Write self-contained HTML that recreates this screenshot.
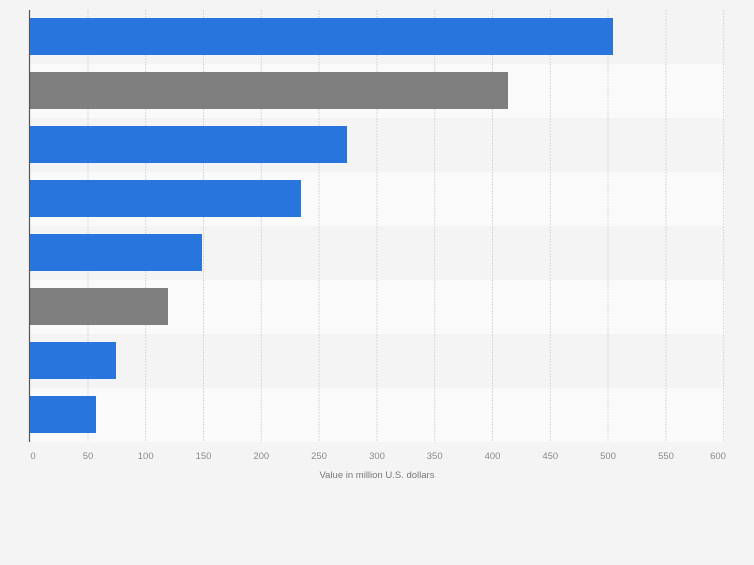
<!DOCTYPE html><html><head><style>body{margin:0;background:#f4f4f4;}</style></head><body>
<svg width="754" height="560" xmlns="http://www.w3.org/2000/svg" font-family="Liberation Sans, sans-serif">
<rect width="754" height="560" fill="#f4f4f4"/>
<g>
<rect x="30" y="10" width="695" height="54" fill="#f4f4f4"/>
<rect x="30" y="64" width="695" height="54" fill="#fafafa"/>
<rect x="30" y="118" width="695" height="54" fill="#f4f4f4"/>
<rect x="30" y="172" width="695" height="54" fill="#fafafa"/>
<rect x="30" y="226" width="695" height="54" fill="#f4f4f4"/>
<rect x="30" y="280" width="695" height="54" fill="#fafafa"/>
<rect x="30" y="334" width="695" height="54" fill="#f4f4f4"/>
<rect x="30" y="388" width="695" height="54" fill="#fafafa"/>
</g>
<g stroke="#d8d8d8" stroke-dasharray="2,1">
<line x1="88" y1="10" x2="88" y2="442"/><line x1="145.7" y1="10" x2="145.7" y2="442"/><line x1="203.5" y1="10" x2="203.5" y2="442"/><line x1="261.3" y1="10" x2="261.3" y2="442"/><line x1="319" y1="10" x2="319" y2="442"/><line x1="377" y1="10" x2="377" y2="442"/><line x1="434.7" y1="10" x2="434.7" y2="442"/><line x1="492.5" y1="10" x2="492.5" y2="442"/><line x1="550.3" y1="10" x2="550.3" y2="442"/><line x1="608" y1="10" x2="608" y2="442"/><line x1="666" y1="10" x2="666" y2="442"/><line x1="723.7" y1="10" x2="723.7" y2="442"/>
</g>
<rect x="30" y="18" width="583" height="37" fill="#2876dd"/>
<rect x="30" y="72" width="478" height="37" fill="#7f7f7f"/>
<rect x="30" y="126" width="317" height="37" fill="#2876dd"/>
<rect x="30" y="180" width="271" height="37" fill="#2876dd"/>
<rect x="30" y="234" width="172" height="37" fill="#2876dd"/>
<rect x="30" y="288" width="138" height="37" fill="#7f7f7f"/>
<rect x="30" y="342" width="86" height="37" fill="#2876dd"/>
<rect x="30" y="396" width="66" height="37" fill="#2876dd"/>
<line x1="29.5" y1="10" x2="29.5" y2="442" stroke="#555" stroke-width="1.2"/>
<g font-size="9.5" fill="#8a8a8a" text-anchor="middle">
<text x="33" y="459">0</text><text x="88" y="459">50</text><text x="145.7" y="459">100</text><text x="203.5" y="459">150</text><text x="261.3" y="459">200</text><text x="319" y="459">250</text><text x="377" y="459">300</text><text x="434.7" y="459">350</text><text x="492.5" y="459">400</text><text x="550.3" y="459">450</text><text x="608" y="459">500</text><text x="666" y="459">550</text><text x="718" y="459">600</text>
<text x="377" y="478" fill="#777">Value in million U.S. dollars</text>
</g>
</svg></body></html>
